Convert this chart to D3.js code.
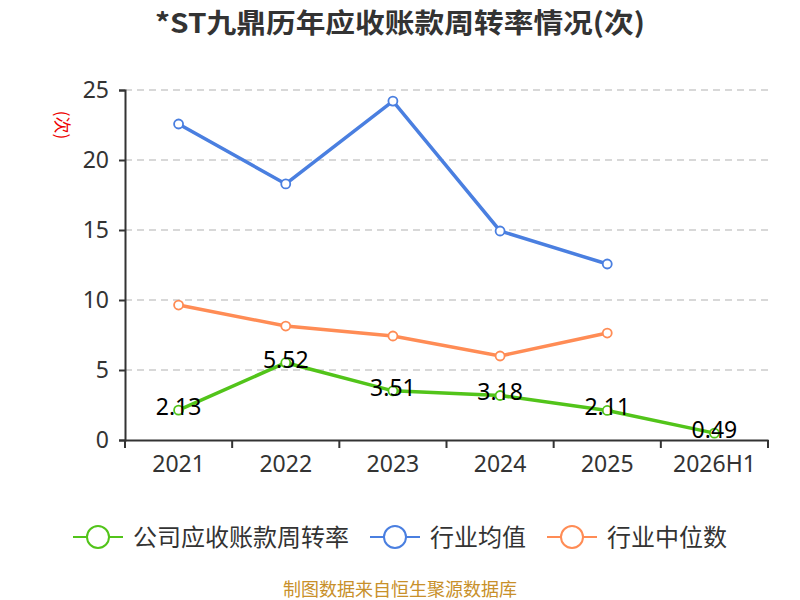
<!DOCTYPE html>
<html>
<head>
<meta charset="utf-8">
<script src="https://cdn.jsdelivr.net/npm/d3@7"></script>
<style>
  body { margin: 0; background: #fff; }
  svg { display: block; font-family: "Noto Sans CJK SC", "Noto Sans", sans-serif; }
</style>
</head>
<body>
<div id="chart"></div>
<script>
const categories = ["2021", "2022", "2023", "2024", "2025", "2026H1"];
const companyValues = [2.13, 5.52, 3.51, 3.18, 2.11, 0.49];
const industryMean = [22.57, 18.29, 24.21, 14.93, 12.57, null];
const industryMedian = [9.64, 8.14, 7.43, 6.0, 7.64, null];
const yTicks = [0, 5, 10, 15, 20, 25];

const seriesNames = ["公司应收账款周转率", "行业均值", "行业中位数"];
const seriesColors = ["#52c41a", "#4a7fe0", "#ff8c55"];

const width = 800, height = 600;
const margin = { top: 90, right: 32, bottom: 160, left: 125 };

const svg = d3.select("#chart").append("svg")
  .attr("width", width)
  .attr("height", height);

// title
svg.append("text")
  .attr("x", 400).attr("y", 33)
  .attr("text-anchor", "middle")
  .attr("textLength", 490)
  .attr("lengthAdjust", "spacingAndGlyphs")
  .style("font-size", "27px")
  .style("font-weight", "bold")
  .style("fill", "#333")
  .text("*ST九鼎历年应收账款周转率情况(次)");

const x = d3.scaleBand()
  .domain(categories)
  .range([margin.left, width - margin.right]);

const y = d3.scaleLinear()
  .domain([0, 25])
  .range([height - margin.bottom, margin.top]);

// gridlines
svg.append("g")
  .selectAll("line")
  .data(yTicks.filter(d => d > 0))
  .join("line")
  .attr("x1", margin.left).attr("x2", width - margin.right)
  .attr("y1", d => y(d)).attr("y2", d => y(d))
  .attr("stroke", "#ccc")
  .attr("stroke-dasharray", "7,5")
  .attr("stroke-width", 1.3);

// y axis
const yAxis = svg.append("g")
  .attr("transform", `translate(${margin.left},0)`)
  .call(d3.axisLeft(y).tickValues(yTicks).tickSize(6).tickPadding(10));
yAxis.select(".domain").attr("stroke", "#333").attr("stroke-width", 2);
yAxis.selectAll(".tick line").attr("stroke", "#333").attr("stroke-width", 2);
yAxis.selectAll(".tick text")
  .style("font-size", "23px")
  .style("fill", "#333")
  .style("font-family", "'Noto Sans', sans-serif");

// x axis
const xAxis = svg.append("g")
  .attr("transform", `translate(0,${height - margin.bottom})`)
  .call(d3.axisBottom(x).tickSize(0).tickPadding(16));
xAxis.select(".domain").attr("stroke", "#333").attr("stroke-width", 2);
xAxis.selectAll(".tick text")
  .style("font-size", "23px")
  .style("fill", "#333")
  .style("font-family", "'Noto Sans', sans-serif");
// band boundary ticks
xAxis.selectAll(".bound")
  .data(categories.map(c => x(c)).concat([x.range()[1]]))
  .join("line")
  .attr("x1", d => d).attr("x2", d => d)
  .attr("y1", 0).attr("y2", 8)
  .attr("stroke", "#333").attr("stroke-width", 2);

// unit label
svg.append("text")
  .attr("transform", `translate(56,125) rotate(90)`)
  .attr("text-anchor", "middle")
  .style("font-size", "17px")
  .style("fill", "#e00")
  .text("(次)");

const cx = d => x(d) + x.bandwidth() / 2;

const allSeries = [companyValues, industryMean, industryMedian];

// draw mean & median first, company on top
[1, 2, 0].forEach(i => {
  const vals = allSeries[i];
  const pts = categories.map((c, j) => ({ c, v: vals[j] })).filter(d => d.v != null);
  const line = d3.line().x(d => cx(d.c)).y(d => y(d.v));
  svg.append("path")
    .datum(pts)
    .attr("d", line)
    .attr("fill", "none")
    .attr("stroke", seriesColors[i])
    .attr("stroke-width", 3.5);
  svg.append("g")
    .selectAll("circle")
    .data(pts)
    .join("circle")
    .attr("cx", d => cx(d.c))
    .attr("cy", d => y(d.v))
    .attr("r", 4.5)
    .attr("fill", "#fff")
    .attr("stroke", seriesColors[i])
    .attr("stroke-width", 1.8);
});

// value labels for the company series
svg.append("g")
  .selectAll("text")
  .data(categories.map((c, j) => ({ c, v: companyValues[j] })))
  .join("text")
  .attr("x", d => cx(d.c))
  .attr("y", d => y(d.v) + 5)
  .attr("text-anchor", "middle")
  .style("font-size", "23px")
  .style("fill", "#000")
  .style("font-family", "'Noto Sans', sans-serif")
  .text(d => d.v.toFixed(2));

// legend
const legendX = [73, 370, 547];
const legend = svg.append("g")
  .selectAll("g")
  .data(seriesNames)
  .join("g")
  .attr("transform", (d, i) => `translate(${legendX[i]},537)`);
legend.append("line")
  .attr("x1", 0).attr("x2", 50)
  .attr("stroke", (d, i) => seriesColors[i])
  .attr("stroke-width", 2);
legend.append("circle")
  .attr("cx", 25).attr("r", 11)
  .attr("fill", "#fff")
  .attr("stroke", (d, i) => seriesColors[i])
  .attr("stroke-width", 2);
legend.append("text")
  .attr("x", 60).attr("y", 9)
  .style("font-size", "24px")
  .style("fill", "#333")
  .text(d => d);

// source
svg.append("text")
  .attr("x", 400).attr("y", 596)
  .attr("text-anchor", "middle")
  .style("font-size", "18px")
  .style("fill", "#c8902a")
  .text("制图数据来自恒生聚源数据库");
</script>
</body>
</html>
